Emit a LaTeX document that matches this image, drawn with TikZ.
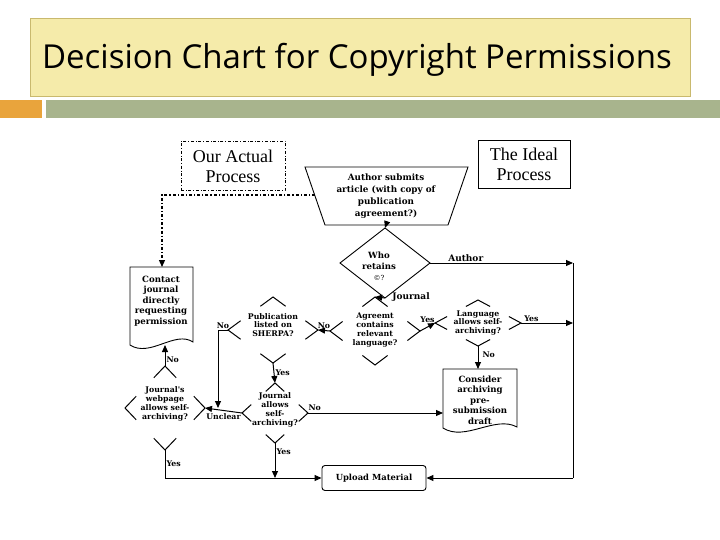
\documentclass[tikz,border=0pt]{standalone}
\usepackage{fontspec}
\setmainfont{Liberation Serif}
\newfontfamily\titlefont{Open Sans}
\newfontfamily\boxfont{DejaVu Serif}
\usetikzlibrary{calc,arrows.meta}
\definecolor{titlefill}{HTML}{F5EBAA}
\definecolor{titleline}{HTML}{C9B96E}
\definecolor{orangebar}{HTML}{E9A43C}
\definecolor{greenbar}{HTML}{A8B48D}
\tikzset{
 lbl/.style={font=\boxfont\fontsize{7.8}{8.8}\selectfont\bfseries,align=center,inner sep=1pt},
 arr/.style={line width=1pt,-{Triangle[length=7pt,width=6pt]}},
 ln/.style={line width=1pt},
 doc/.style={lbl,font=\boxfont\fontsize{8.6}{10.5}\selectfont\bfseries,minimum width=62pt,text width=70pt,inner sep=2pt},
}
\newcommand\mkdia[5]{%
 \coordinate (#1) at (#2,#3);
 \coordinate (#1N) at (#2,{#3-#5});
 \coordinate (#1S) at (#2,{#3+#5});
 \coordinate (#1E) at ({#2+#4},#3);
 \coordinate (#1W) at ({#2-#4},#3);}
\newcommand\fragdia[1]{%
 \draw[ln] ($(#1N)!0.28!(#1E)$) -- (#1N) -- ($(#1N)!0.28!(#1W)$);
 \draw[ln] ($(#1S)!0.28!(#1E)$) -- (#1S) -- ($(#1S)!0.28!(#1W)$);
 \draw[ln] ($(#1E)!0.28!(#1N)$) -- (#1E) -- ($(#1E)!0.28!(#1S)$);
 \draw[ln] ($(#1W)!0.28!(#1N)$) -- (#1W) -- ($(#1W)!0.28!(#1S)$);}
\begin{document}
\begin{tikzpicture}[x=1pt,y=-1pt]
\useasboundingbox (0,0) rectangle (720,540);
\fill[white] (0,0) rectangle (720,540);
% header
\draw[fill=titlefill,draw=titleline] (30,18) rectangle (690,96);
\node[font=\titlefont\fontsize{33}{36}\selectfont] (title) at (357,60) {Decision Chart for Copyright Permissions};
\fill[orangebar] (0,100) rectangle (42,118);
\fill[greenbar] (46,100) rectangle (720,118);
% legend boxes
\node[draw,dash dot,line width=0.9pt,minimum width=104pt,minimum height=49pt,align=center,font=\fontsize{18}{20}\selectfont] (actual) at (233,166) {Our Actual\\Process};
\node[draw,line width=0.7pt,minimum width=92pt,minimum height=48pt,align=center,font=\fontsize{18}{20}\selectfont] (ideal) at (524,164) {The Ideal\\Process};
% trapezoid
\draw[line width=0.9pt] (305,167) -- (468,167) -- (448,225) -- (325,225) -- cycle;
\node[lbl,font=\boxfont\fontsize{8.8}{12}\selectfont\bfseries] (submit) at (386,196) {Author submits\\article (with copy of\\publication\\agreement?)};
\coordinate (subbot) at (386,225);
% diamonds
\mkdia{who}{385}{263}{45}{35}
\draw[line width=0.9pt] (whoN) -- (whoE) -- (whoS) -- (whoW) -- cycle;
\node[lbl,font=\boxfont\fontsize{8.6}{11}\selectfont\bfseries] (whot) at (379,266) {Who\\retains\\{\mdseries\fontsize{7}{8}\selectfont ©?}};
\mkdia{agree}{375}{331}{45}{34}\fragdia{agree}
\node[lbl] (agreet) at (375,330) {Agreemt\\contains\\relevant\\language?};
\mkdia{lang}{478}{323}{43}{23}\fragdia{lang}
\node[lbl] (langt) at (478,323) {Language\\allows self-\\archiving?};
\mkdia{pub}{273}{330}{45}{33}\fragdia{pub}
\node[lbl] (pubt) at (273,325) {Publication\\listed on\\SHERPA?};
\mkdia{web}{165}{408}{40}{42}\fragdia{web}
\node[lbl] (webt) at (165,404) {Journal's\\webpage\\allows self-\\archiving?};
\mkdia{jal}{275}{413}{33}{30}\fragdia{jal}
\node[lbl] (jalt) at (275,410) {Journal\\allows\\self-\\archiving?};
% documents
\draw[line width=0.9pt] (130,267) -- (193,267) -- (193,342) .. controls (175,330) and (150,358) .. (130,345) -- cycle;
\node[doc] (contact) at (161,301) {Contact\\journal\\directly\\requesting\\permission};
\draw[line width=0.9pt] (443,369) -- (517,369) -- (517,427) .. controls (495,415) and (465,442) .. (443,428) -- cycle;
\node[doc] (consider) at (480,400) {Consider\\archiving\\pre-\\submission\\draft};
\node[draw,rounded corners=3pt,line width=0.9pt,minimum width=104pt,minimum height=25pt,lbl,font=\boxfont\fontsize{8.4}{10}\selectfont\bfseries] (upload) at (374,478) {Upload Material};
% connectors
\coordinate (rx) at (573,263);
\coordinate (rb) at (573,478);
\draw[arr] (subbot) -- (whoN);
\draw[arr] (whoE) -- (rx) node[lbl,pos=0.25,above,font=\boxfont\fontsize{9}{10}\selectfont\bfseries] {Author};
\draw[ln] (rx) -- (rb);
\draw[arr] (rb) -- (upload.east);
\draw[arr] (whoS) -- (agreeN);
\node[lbl,font=\boxfont\fontsize{9}{10}\selectfont\bfseries] (jl) at (411,297) {Journal};
\draw[arr] (agreeE) -- (langW) node[lbl,midway,above,yshift=3pt] {Yes};
\draw[arr] (langE) -- (langE -| rx) node[lbl,pos=0.2,above] {Yes};
\draw[arr] (langS) -- (478,369) node[lbl,pos=0.4,right,xshift=3pt] {No};
\draw[arr] (agreeW) -- (pubE) node[lbl,midway,above] {No};
\coordinate (c1) at (218,330);
\coordinate (c2) at (218,408);
\draw[arr] (pubW) -- node[lbl,above,pos=0.5] {No} (c1) -- (c2);
\draw[arr] (jalW) -- (webE) node[lbl,midway,below,yshift=-2pt] {Unclear};
\draw[arr] (webN) -- (165,345) node[lbl,pos=0.3,right] {No};
\draw[arr] (pubS) -- (jalN) node[lbl,midway,right] {Yes};
\draw[arr] (jalE) -- (443,413) node[lbl,pos=0.05,above,yshift=1pt] {No};
\coordinate (wb) at (165,478);
\draw[arr] (webS) -- node[lbl,right,pos=0.5] {Yes} (wb) -- (upload.west);
\draw[arr] (jalS) -- (275,478) node[lbl,pos=0.25,right] {Yes};
% dash-dot route
\coordinate (d1) at (315,195);
\coordinate (d2) at (162,195);
\draw[line width=1.2pt,dash dot,-{Triangle[length=7pt,width=6pt]}] (d1) -- (d2) -- (162,267);
\end{tikzpicture}
\end{document}
